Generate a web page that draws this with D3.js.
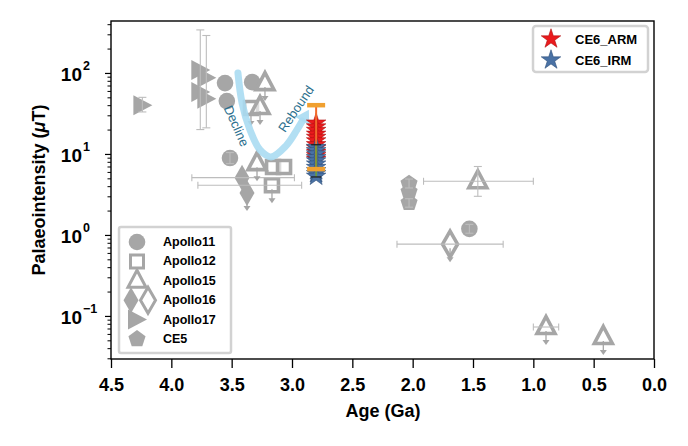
<!DOCTYPE html>
<html><head><meta charset="utf-8">
<script src="https://cdn.jsdelivr.net/npm/d3@7"></script>
<style>
body{margin:0;background:#fff}
svg{display:block}
text{font-family:"Liberation Sans",Arial,Helvetica,sans-serif}
</style>
</head><body>
<svg id="c" width="688" height="446"></svg>
<script>
// ---------------- DATA ----------------
const xTicks = [4.5, 4.0, 3.5, 3.0, 2.5, 2.0, 1.5, 1.0, 0.5, 0.0];
const yTickExps = [-1, 0, 1, 2];
const xLabel = "Age (Ga)";
const yLabelPre = "Palaeointensity (", yLabelMu = "\u03bc", yLabelPost = "T)";

// age in Ga, pi = palaeointensity in microtesla; aOld/aYoung = age error, lo/hi = intensity error, lim = upper limit arrow
const apollo11 = [
  {age: 3.555, pi: 75}, {age: 3.54, pi: 45}, {age: 3.33, pi: 77},
  {age: 3.514, pi: 8.9, lo: 7.6, hi: 10.4},
  {age: 1.53, pi: 1.19, lo: 1.05, hi: 1.35}
];
const apollo12 = [
  {age: 3.34, pi: 37, lim: true},
  {age: 3.157, pi: 6.9}, {age: 3.066, pi: 6.9},
  {age: 3.166, pi: 4.1, aOld: 3.78, aYoung: 2.92, lim: true}
];
const apollo15 = [
  {age: 3.224, pi: 75, lim: true}, {age: 3.265, pi: 38, lim: true},
  {age: 3.29, pi: 7.7, lim: true},
  {age: 1.46, pi: 4.6, aOld: 1.91, aYoung: 1.0, lo: 3.0, hi: 7.0},
  {age: 0.895, pi: 0.073, aOld: 1.0, aYoung: 0.79, lim: true},
  {age: 0.42, pi: 0.055, lim: true}
];
const apollo16Filled = [
  {age: 3.414, pi: 5.1, aOld: 3.83, aYoung: 2.98},
  {age: 3.373, pi: 3.3, lim: true}
];
const apollo16Open = [
  {age: 1.69, pi: 0.77, aOld: 2.13, aYoung: 1.25, lim: true}
];
const apollo17 = [
  {age: 4.24, pi: 40, lo: 33, hi: 50},
  {age: 3.76, pi: 109, lo: 20, hi: 340},
  {age: 3.71, pi: 87, lo: 21, hi: 290},
  {age: 3.76, pi: 58}, {age: 3.71, pi: 48}
];
const ce5 = [
  {age: 2.03, pi: 4.3, lo: 3.8, hi: 4.9}, {age: 2.03, pi: 3.4}, {age: 2.03, pi: 2.5, lo: 2.2, hi: 2.8}
];
const ce6Age = 2.8;
const ce6ARM = [24, 21.5, 19.5, 17.5, 16, 14.5, 13, 11.8, 10.5, 9.5, 8.6];
const ce6IRM = [12, 11, 10, 9, 8.2, 7.5, 6.8, 6.2, 5.7, 5.3];
const ce6ARMerr = {lo: 6.5, hi: 40};
const ce6IRMerr = {lo: 5.2, hi: 13};
// Decline / rebound trend (age, pi)
const trendAge = [3.448, 3.414, 3.348, 3.265, 3.174, 3.05, 2.959, 2.915];
const trendPI  = [100, 42.6, 19.8, 11.2, 9.2, 12.6, 19.8, 25.5];
const declineLabel = {text: "Decline", age: 3.46, pi: 22.2, rot: 66};
const reboundLabel = {text: "Rebound", age: 2.967, pi: 36, rot: -56};
const legendApollo = ["Apollo11", "Apollo12", "Apollo15", "Apollo16", "Apollo17", "CE5"];
const legendCE6 = ["CE6_ARM", "CE6_IRM"];

// ---------------- STYLE ----------------
const GRAY = "#a6a6a6", ERR = "#bdbdbd", RED = "#ea1a1d", BLUE = "#4a72a5", TREND = "#aadcf2", TXT = "#2b6f8e";

const svg = d3.select("#c");
const x = d3.scaleLinear().domain([4.5, 0]).range([111, 654]);
const y = d3.scaleLog().domain([0.0294, 438]).range([359, 21]);

const shapes = {
  circle: d3.symbol(d3.symbolCircle, Math.PI * 8.3 * 8.3)(),
  square: "M-6.5,-6.5H6.5V6.5H-6.5Z",
  tri: "M0,-10.5L9,6.5L-9,6.5Z",
  triR: "M10,0L-9,-10L-9,10Z",
  diamond: "M0,-13L7.5,0L0,13L-7.5,0Z",
  pent: d3.range(5).map(i => { const a = -Math.PI / 2 + i * 2 * Math.PI / 5; return (i ? "L" : "M") + (9 * Math.cos(a)).toFixed(2) + "," + (9 * Math.sin(a)).toFixed(2); }).join("") + "Z"
};

const gMarks = svg.append("g");
const gErr = svg.append("g");

function drawGroup(data, shape, open) {
  gMarks.selectAll(null).data(data).enter().append("path")
    .attr("d", shapes[shape])
    .attr("transform", d => `translate(${x(d.age)},${y(d.pi)})`)
    .attr("fill", open ? "#fff" : GRAY)
    .attr("fill-opacity", open ? 0.6 : 1)
    .attr("stroke", GRAY)
    .attr("stroke-width", open ? 3.6 : 0)
    .attr("stroke-linejoin", "miter");
  data.forEach(d => {
    const cx = x(d.age), cy = y(d.pi);
    if (d.aOld !== undefined) {
      const x1 = x(d.aOld), x2 = x(d.aYoung);
      gErr.append("line").attr("x1", x1).attr("x2", x2).attr("y1", cy).attr("y2", cy).attr("stroke", ERR).attr("stroke-width", 1.1);
      [x1, x2].forEach(xx => gErr.append("line").attr("x1", xx).attr("x2", xx).attr("y1", cy - 3.5).attr("y2", cy + 3.5).attr("stroke", ERR).attr("stroke-width", 1.1));
    }
    if (d.lo !== undefined) {
      const y1 = y(d.lo), y2 = y(d.hi);
      gErr.append("line").attr("x1", cx).attr("x2", cx).attr("y1", y1).attr("y2", y2).attr("stroke", ERR).attr("stroke-width", 1.1);
      [y1, y2].forEach(yy => gErr.append("line").attr("x1", cx - 4).attr("x2", cx + 4).attr("y1", yy).attr("y2", yy).attr("stroke", ERR).attr("stroke-width", 1.1));
    }
    if (d.lim) {
      gErr.append("line").attr("x1", cx).attr("x2", cx).attr("y1", cy + 4).attr("y2", cy + 15).attr("stroke", GRAY).attr("stroke-width", 1.3);
      gErr.append("path").attr("d", `M${cx - 3.5},${cy + 13}L${cx + 3.5},${cy + 13}L${cx},${cy + 18}Z`).attr("fill", GRAY);
    }
  });
}

drawGroup(apollo17, "triR", false);
drawGroup(apollo11, "circle", false);
drawGroup(ce5, "pent", false);
drawGroup(apollo16Filled, "diamond", false);
drawGroup(apollo12, "square", true);
drawGroup(apollo15, "tri", true);
drawGroup(apollo16Open, "diamond", true);

// trend arrow
const trendPts = trendAge.map((a, i) => [x(a), y(trendPI[i])]);
const n = trendPts.length;
const pEnd = trendPts[n - 1], pPrev = trendPts[n - 2];
const ang = Math.atan2(pEnd[1] - pPrev[1], pEnd[0] - pPrev[0]);
svg.append("path")
  .attr("d", d3.line().curve(d3.curveCatmullRom.alpha(0.5))(trendPts))
  .attr("fill", "none").attr("stroke", TREND).attr("stroke-width", 7).attr("stroke-linecap", "round").attr("opacity", 0.9);
{
  const L = 13, W = 8;
  const tip = [pEnd[0] + L * Math.cos(ang), pEnd[1] + L * Math.sin(ang)];
  const b1 = [pEnd[0] + W * Math.cos(ang + Math.PI / 2), pEnd[1] + W * Math.sin(ang + Math.PI / 2)];
  const b2 = [pEnd[0] - W * Math.cos(ang + Math.PI / 2), pEnd[1] - W * Math.sin(ang + Math.PI / 2)];
  svg.append("path").attr("d", `M${tip}L${b1}L${b2}Z`).attr("fill", TREND).attr("opacity", 0.9);
}
[declineLabel, reboundLabel].forEach(l => {
  svg.append("text").text(l.text)
    .attr("transform", `translate(${x(l.age)},${y(l.pi)}) rotate(${l.rot})`)
    .attr("text-anchor", "middle").attr("dominant-baseline", "central")
    .attr("font-size", 13).attr("fill", TXT);
});

// CE6 stars
const starPath = d3.symbol(d3.symbolStar, 118)();
const cx6 = x(ce6Age);
svg.append("g").selectAll("path").data(ce6ARM).enter().append("path")
  .attr("d", starPath).attr("transform", d => `translate(${cx6},${y(d)})`)
  .attr("fill", RED).attr("stroke", "#b01010").attr("stroke-width", 0.6);
svg.append("g").selectAll("path").data(ce6IRM).enter().append("path")
  .attr("d", starPath).attr("transform", d => `translate(${cx6},${y(d)})`)
  .attr("fill", BLUE).attr("stroke", "#2e4f7a").attr("stroke-width", 0.6);
// CE6 error bars
svg.append("line").attr("x1", cx6).attr("x2", cx6).attr("y1", y(ce6ARMerr.hi)).attr("y2", y(ce6ARMerr.lo)).attr("stroke", "#f26a2a").attr("stroke-width", 2);
svg.append("line").attr("x1", cx6).attr("x2", cx6).attr("y1", y(ce6IRMerr.hi)).attr("y2", y(ce6IRMerr.lo)).attr("stroke", "#6aa03a").attr("stroke-width", 1.6);
[ce6IRMerr.hi, ce6IRMerr.lo].forEach(v => svg.append("line").attr("x1", cx6 - 5).attr("x2", cx6 + 5).attr("y1", y(v)).attr("y2", y(v)).attr("stroke", "#222").attr("stroke-width", 1.3));
[ce6ARMerr.hi, ce6ARMerr.lo].forEach(v => svg.append("line").attr("x1", cx6 - 9).attr("x2", cx6 + 9).attr("y1", y(v)).attr("y2", y(v)).attr("stroke", "#f0a030").attr("stroke-width", 4.5));

// ---------------- AXES ----------------
const gx = svg.append("g").attr("transform", "translate(0,359)")
  .call(d3.axisBottom(x).tickValues(xTicks).tickSize(9).tickPadding(10).tickFormat(d3.format(".1f")));
gx.select(".domain").remove();
gx.selectAll("line").attr("stroke", "#000").attr("stroke-width", 1.3);
gx.selectAll("text").attr("font-size", 18).attr("font-weight", "bold").attr("fill", "#000").attr("font-family", "Liberation Sans, Arial, sans-serif");

const majors = yTickExps.map(e => Math.pow(10, e));
const minors = [];
for (let e = -2; e <= 2; e++) for (let m = 2; m <= 9; m++) { const v = m * Math.pow(10, e); if (v > 0.0294 && v < 438) minors.push(v); }
const gy = svg.append("g").attr("transform", "translate(111,0)")
  .call(d3.axisLeft(y).tickValues(majors).tickSize(6).tickFormat(""));
gy.select(".domain").remove();
gy.selectAll("line").attr("stroke", "#000").attr("stroke-width", 1.2);
const gy2 = svg.append("g").attr("transform", "translate(111,0)")
  .call(d3.axisLeft(y).tickValues(minors).tickSize(3.5).tickFormat(""));
gy2.select(".domain").remove();
gy2.selectAll("line").attr("stroke", "#000").attr("stroke-width", 1);
yTickExps.forEach(e => {
  const yy = y(Math.pow(10, e));
  svg.append("text").text("10").attr("x", 82).attr("y", yy + 8).attr("text-anchor", "end")
    .attr("font-size", 19).attr("font-weight", "bold");
  svg.append("text").text(e < 0 ? "\u2212" + Math.abs(e) : String(e)).attr("x", 83).attr("y", yy - 3).attr("text-anchor", "start")
    .attr("font-size", 12.5).attr("font-weight", "bold");
});

// frame
svg.append("rect").attr("x", 111).attr("y", 21).attr("width", 543).attr("height", 338)
  .attr("fill", "none").attr("stroke", "#000").attr("stroke-width", 1.4);

// axis titles
svg.append("text").attr("x", 383).attr("y", 417).attr("text-anchor", "middle")
  .attr("font-size", 18).attr("font-weight", "bold").text(xLabel);
const yl = svg.append("text").attr("transform", "translate(45,190) rotate(-90)").attr("text-anchor", "middle")
  .attr("font-size", 18).attr("font-weight", "bold");
yl.append("tspan").text(yLabelPre);
yl.append("tspan").attr("font-style", "italic").text(yLabelMu);
yl.append("tspan").text(yLabelPost);

// ---------------- LEGENDS ----------------
svg.append("rect").attr("x", 533).attr("y", 26).attr("width", 115).attr("height", 46).attr("rx", 3)
  .attr("fill", "#fff").attr("stroke", "#d2d2d2").attr("stroke-width", 2.5);
legendCE6.forEach((t, i) => {
  const yy = 39 + i * 21;
  svg.append("path").attr("d", starPath).attr("transform", `translate(551,${yy})`)
    .attr("fill", i === 0 ? RED : BLUE).attr("stroke", i === 0 ? "#b01010" : "#2e4f7a").attr("stroke-width", 0.6);
  svg.append("text").attr("x", 575).attr("y", yy).attr("dominant-baseline", "central")
    .attr("font-size", 13).attr("font-weight", "bold").text(t);
});

svg.append("rect").attr("x", 119).attr("y", 227).attr("width", 112).attr("height", 126).attr("rx", 2)
  .attr("fill", "#fff").attr("stroke", "#d2d2d2").attr("stroke-width", 2.5);
const legShapes = [["circle", false], ["square", true], ["tri", true], ["diamond", false], ["triR", false], ["pent", false]];
legendApollo.forEach((t, i) => {
  const yy = 242 + i * 19.4;
  const [sh, open] = legShapes[i];
  if (t === "Apollo16") {
    svg.append("path").attr("d", shapes.diamond).attr("transform", `translate(131,${yy})`).attr("fill", GRAY);
    svg.append("path").attr("d", shapes.diamond).attr("transform", `translate(148,${yy})`).attr("fill", "#fff").attr("stroke", GRAY).attr("stroke-width", 3);
  } else {
    svg.append("path").attr("d", shapes[sh]).attr("transform", `translate(137,${yy})`)
      .attr("fill", open ? "#fff" : GRAY).attr("stroke", GRAY).attr("stroke-width", open ? 3 : 0);
  }
  svg.append("text").attr("x", 163).attr("y", yy).attr("dominant-baseline", "central")
    .attr("font-size", 12.5).attr("font-weight", "bold").text(t);
});
</script>
</body></html>
